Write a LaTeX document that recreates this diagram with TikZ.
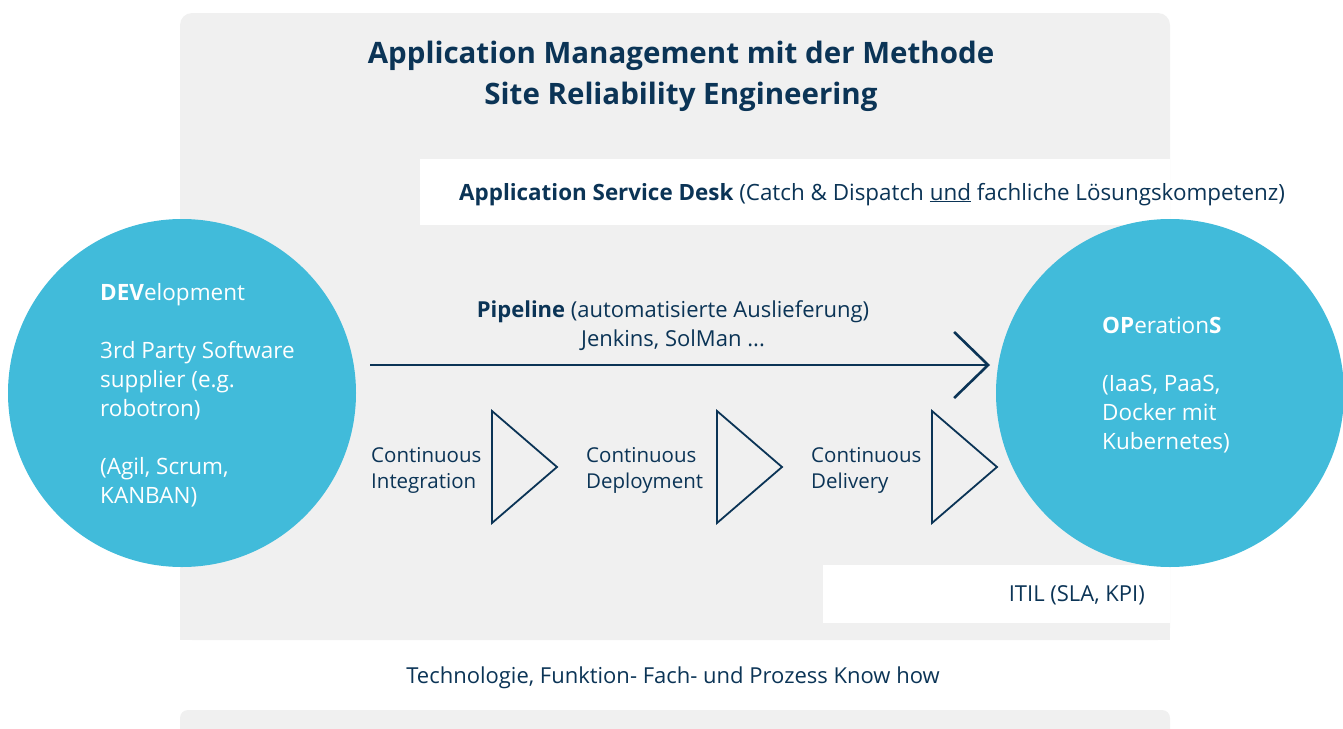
\documentclass[tikz,border=0pt]{standalone}
\usepackage{fontspec}
\setmainfont{Open Sans}
\usetikzlibrary{positioning,arrows.meta}
\definecolor{sreNavy}{HTML}{0B3456}
\definecolor{sreBlue}{HTML}{41BBDA}
\definecolor{sreGrey}{HTML}{F0F0F0}

\begin{document}
\begin{tikzpicture}[x=1pt,y=-1pt]
	\tikzstyle{txt}=[text=sreNavy,inner sep=0pt,font=\fontsize{22}{29}\selectfont]
	\tikzstyle{circ}=[circle,fill=sreBlue,minimum size=348pt,inner sep=0pt]
	\tikzstyle{ctxt}=[text=white,inner sep=0pt,align=left,anchor=base west,font=\fontsize{22.5}{29}\selectfont]
	\tikzstyle{ltxt}=[txt,align=left,anchor=base west,font=\fontsize{20.5}{26}\selectfont]
	\tikzstyle{stage}=[draw=sreNavy,line width=1.8pt,line join=miter]
	\useasboundingbox (0,0) rectangle (1343,728);
		\fill[sreGrey,rounded corners=12pt] (180,13) rectangle (1170,640);
		\fill[sreGrey] (180,600) rectangle (1170,640);
		\fill[sreGrey,rounded corners=8pt] (180,710) rectangle (1170,750);
		\fill[white] (420,159) rectangle (1170,225);
		\fill[white] (823,565) rectangle (1170,623);
		\node[txt,align=center,anchor=base,font=\bfseries\fontsize{29.5}{41}\selectfont] (title) at (681,104) {Application Management mit der Methode\\Site Reliability Engineering};
		\node[txt,anchor=base west,font=\fontsize{22.4}{29}\selectfont] (desk) at (459,200) {\textbf{Application Service Desk} (Catch \& Dispatch \underline{und} fachliche Lösungskompetenz)};
		\node[circ] (dev) at (182,393) {};
		\node[circ] (ops) at (1170,393) {};
		\node[ctxt] (devtxt) at (100,503) {\textbf{DEV}elopment\\[29pt]3rd Party Software\\supplier (e.g.\\robotron)\\[29pt](Agil, Scrum,\\KANBAN)};
		\node[ctxt] (opstxt) at (1102,449) {\textbf{OP}eration\textbf{S}\\[29pt](IaaS, PaaS,\\Docker mit\\Kubernetes)};
		\coordinate (pipein) at (370,365);
		\coordinate (pipeout) at (990,365);
			\draw[sreNavy,line width=2.6pt,-{Straight Barb[length=34pt,width=66pt]}] (pipein) -- (pipeout);
		\node[txt,align=center,anchor=base] (pipe) at (673,346) {\textbf{Pipeline} (automatisierte Auslieferung)\\Jenkins, SolMan ...};
		\foreach \x in {492,717,932}
			\draw[stage] (\x,411) -- ++(65,56) -- ++(-65,56) -- cycle;
		\node[ltxt] (ci) at (371,488) {Continuous\\Integration};
		\node[ltxt] (cdep) at (586,488) {Continuous\\Deployment};
		\node[ltxt] (cdel) at (811,488) {Continuous\\Delivery};
		\node[txt,anchor=base east] (itil) at (1145,601) {ITIL (SLA, KPI)};
		\node[txt,anchor=base] (knowhow) at (673,683) {Technologie, Funktion- Fach- und Prozess Know how};
\end{tikzpicture}
\end{document}
